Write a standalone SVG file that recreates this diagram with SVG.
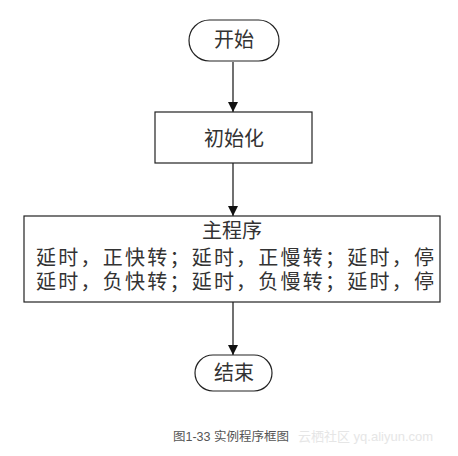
<svg xmlns="http://www.w3.org/2000/svg" width="458" height="456" viewBox="0 0 458 456">
<defs>
<style>
.shape{fill:#fff;stroke:#222;stroke-width:1.2}
.t{font-family:"Liberation Sans","Noto Sans CJK SC",sans-serif;fill:#333;font-size:20px}
.c{text-anchor:middle}
.edge{stroke:#111;stroke-width:1.2;fill:none;marker-end:url(#arr)}
</style>
<marker id="arr" viewBox="0 0 10 10" refX="10" refY="5" markerWidth="10" markerHeight="10" markerUnits="userSpaceOnUse" orient="auto">
<path d="M0,0 L10,5 L0,10 z" fill="#111"/>
</marker>
</defs>
<rect width="458" height="456" fill="#fff"/>
<g id="connectors">
<line class="edge" x1="233" y1="62" x2="233" y2="112"/>
<line class="edge" x1="233" y1="163" x2="233" y2="216"/>
<line class="edge" x1="233" y1="302" x2="233" y2="355"/>
</g>
<g id="start">
<rect class="shape" x="189" y="20" width="90" height="41" rx="20.5"/>
<text class="t c" x="234" y="47">开始</text>
</g>
<g id="init">
<rect class="shape" x="155" y="112" width="157" height="51"/>
<text class="t c" x="234" y="146">初始化</text>
</g>
<g id="main">
<rect class="shape" x="24" y="216" width="416" height="86"/>
<text class="t" x="202" y="238">主程序</text>
<text class="t" x="36" y="265" textLength="398" lengthAdjust="spacing">延时，正快转；延时，正慢转；延时，停</text>
<text class="t" x="36" y="289" textLength="398" lengthAdjust="spacing">延时，负快转；延时，负慢转；延时，停</text>
</g>
<g id="end">
<rect class="shape" x="195" y="355" width="77" height="36" rx="18"/>
<text class="t c" x="234" y="380">结束</text>
</g>
<text x="173" y="441" font-family="'Liberation Sans','Noto Sans CJK SC',sans-serif" font-size="12.5" fill="#555">图1-33 实例程序框图</text>
<text x="298" y="441" font-family="'Liberation Sans','Noto Sans CJK SC',sans-serif" font-size="13" fill="#e6e6e6">云栖社区 yq.aliyun.com</text>
</svg>
